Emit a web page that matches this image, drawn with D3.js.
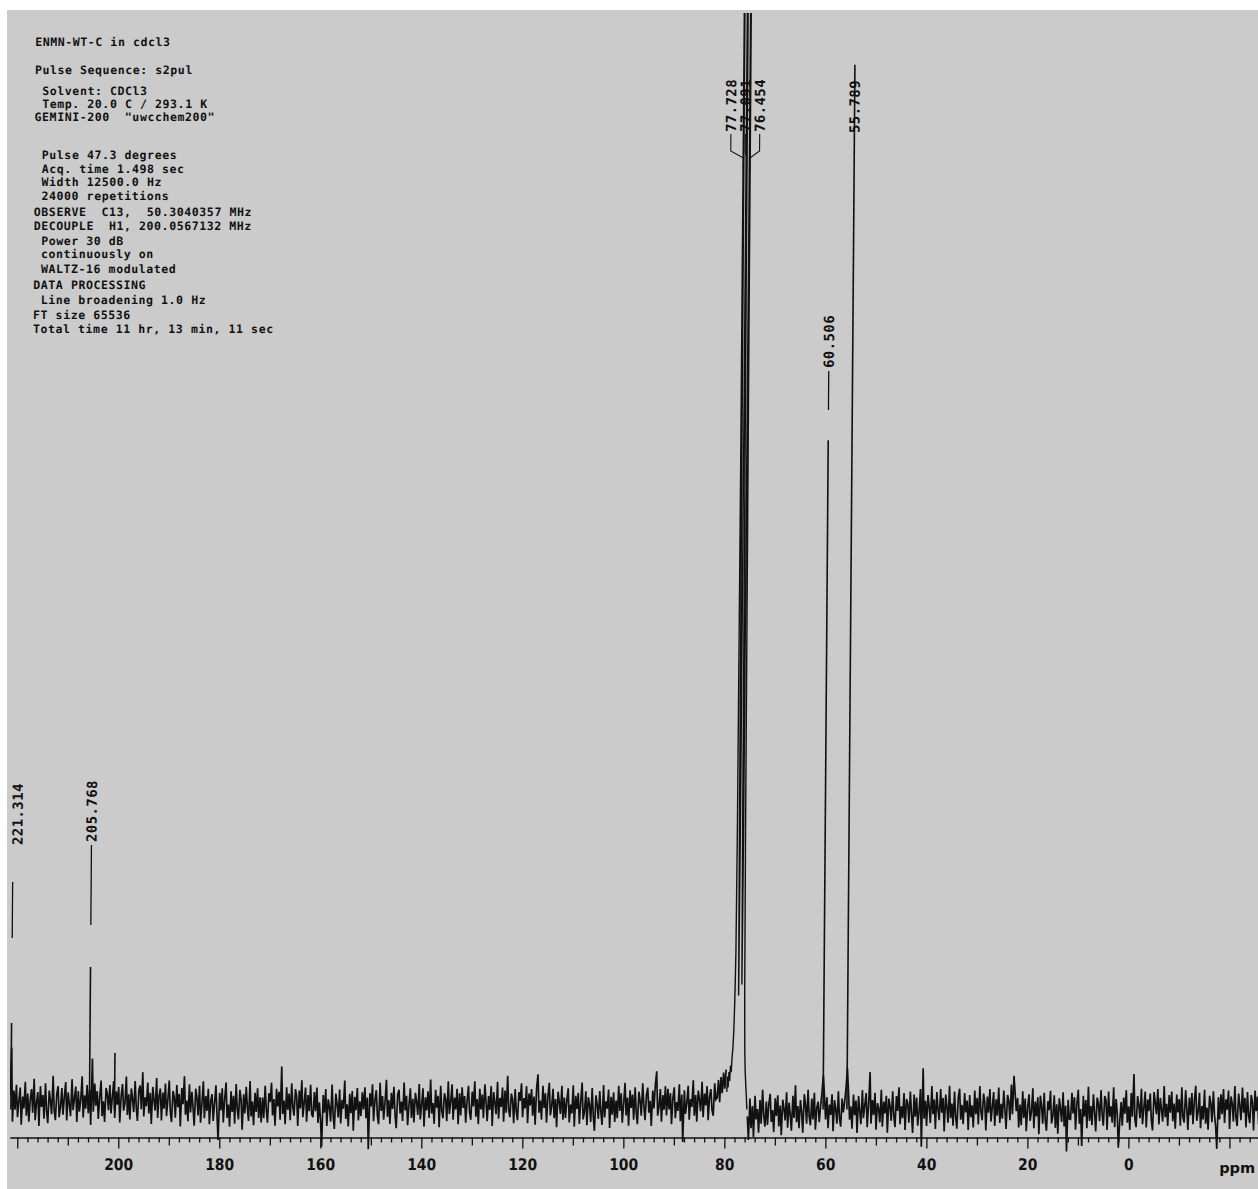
<!DOCTYPE html>
<html>
<head>
<meta charset="utf-8">
<script src="https://cdn.jsdelivr.net/npm/d3@7"></script>
<style>
  html, body { margin: 0; padding: 0; background: #ffffff; }
  svg { display: block; }
  text { white-space: pre; }
</style>
</head>
<body>
<svg id="chart" width="1258" height="1189"></svg>
<script>
// ---------------------------------------------------------------
// 13C NMR spectrum of ENMN-WT-C in CDCl3 (GEMINI-200, 50.3 MHz)
// ---------------------------------------------------------------

// Acquisition / processing parameters printed in the header
const headerLines = [
  "ENMN-WT-C in cdcl3",
  "Pulse Sequence: s2pul",
  " Solvent: CDCl3",
  " Temp. 20.0 C / 293.1 K",
  "GEMINI-200  \"uwcchem200\"",
  " Pulse 47.3 degrees",
  " Acq. time 1.498 sec",
  " Width 12500.0 Hz",
  " 24000 repetitions",
  "OBSERVE  C13,  50.3040357 MHz",
  "DECOUPLE  H1, 200.0567132 MHz",
  " Power 30 dB",
  " continuously on",
  " WALTZ-16 modulated",
  "DATA PROCESSING",
  " Line broadening 1.0 Hz",
  "FT size 65536",
  "Total time 11 hr, 13 min, 11 sec"
];

// Chemical-shift axis
const tickLabels = [200, 180, 160, 140, 120, 100, 80, 60, 40, 20, 0];
const axisUnit = "ppm";

// Resolved lines (ppm, intensity in plot units; 100 = full plot height)
const peakPpm    = [221.314, 205.768, 200.8, 60.506, 55.789];
const peakHeight = [7.5,     12.6,    4.75,  60.7,   95.0];

// CDCl3 triplet region, traced point by point (runs off scale at the top)
const solventPpm = [79.6, 79.5, 79.35, 79.2, 79.05, 78.9, 78.75, 78.6, 78.45, 78.3, 78.15, 78.0, 77.9, 77.8,
                    77.728, 77.62, 77.5, 77.41, 77.3, 77.2, 77.091, 76.98, 76.86, 76.77, 76.67, 76.55,
                    76.454, 76.36, 76.28, 76.2, 76.1, 76.0, 75.85, 75.7, 75.6];
const solventHeight = [1.2, 2.6, 1.6, 3.0, 2.2, 3.6, 3.0, 4.4, 5.2, 6.8, 9.5, 14, 25, 60,
                       160, 80, 28, 10, 26, 75, 160, 75, 25, 11, 25, 80,
                       160, 70, 25, 10, 5, 3.2, 1.8, 0.6, -0.4];

// Peak-pick labels
const labelValues = ["221.314", "205.768", "77.728", "77.091", "76.454", "60.506", "55.789"];

// Baseline: sampled every 0.25 ppm from 221.5 ppm (in noise counts);
// null where the solvent trace above takes over
const noiseStart = 221.5;
const noiseStep = 0.25;
const noiseUnit = 0.135;   // plot units per count
const noise = [
  6,38,-12,9,-4,13,-9,2,11,-14, 5,-3,15,-8,7,-12,3,10,-6,17, -11,1,8,-15,12,-2,6,-10,14,-5, -13,9,2,-7,19,-4,-11,7,12,-9,
  -3,10,-8,4,14,-12,7,-1,-9,16, -5,3,11,-13,8,-6,2,18,-10,5, -4,12,-7,9,-15,30,-6,13,-2,8, -11,4,15,-9,1,-13,10,6,-5,12,
  -8,3,14,-11,7,-2,10,-14,4,12, -6,-1,17,-9,5,-12,9,2,-7,14, -4,-13,8,11,-5,20,-10,3,-3,13, -8,6,-15,10,1,-6,16,-11,4,9,
  -12,7,-4,13,-9,2,15,-6,-13,8, 4,-10,12,-3,6,-16,10,-1,18,-8, 3,-11,14,-5,9,-2,-14,11,5,-7, 13,-12,1,16,-9,6,-4,11,-13,3,
  8,-10,2,14,-6,-23,9,-3,12,-11, 5,16,-8,1,-14,10,-4,7,-12,15, -2,-9,11,4,-16,8,-5,13,-1,-10, 17,-7,3,-13,9,-4,12,-8,6,-11,
  5,-9,13,-3,-12,8,2,15,-7,4, -14,11,-1,9,-10,26,-6,3,-13,12, -4,7,-11,14,-2,-8,10,5,-15,9, -3,16,-9,1,11,-12,6,-5,13,-7,
  -6,11,-2,14,-10,4,-8,-26,9,-3, 13,-12,6,1,-9,16,-5,-14,10,3, -7,12,-11,5,-1,18,-8,2,-13,9, -4,11,-16,7,-2,13,-9,4,-6,10,
  -3,12,-9,5,-30,8,-1,14,-11,3, 10,-7,-13,15,-4,6,-10,2,17,-8, 4,-12,9,-2,13,-6,-15,8,11,-5, 3,-10,16,-3,7,-13,1,12,-8,5,
  -11,9,3,-6,15,-9,1,12,-14,6, -3,10,-8,18,-5,2,-12,11,-1,7, -15,13,-4,-9,8,4,-11,16,-6,2, 14,-10,5,-3,11,-13,8,-7,12,-2,
  6,-12,3,13,-5,-10,9,-1,16,-8, 4,-13,11,-3,7,-9,14,2,-11,6, -4,12,-15,8,1,-7,15,-10,4,-2, 11,-12,9,-6,19,-4,-9,7,3,-13,
  10,-5,-11,8,2,14,-9,4,-3,12, -13,7,-1,10,-8,5,-14,11,20,-6, 3,-10,13,-2,8,-12,6,15,-7,-1, 11,-9,4,-15,9,2,-6,13,-10,5,
  -8,4,12,-11,1,-5,14,-14,7,-2, 9,-12,3,16,-9,-4,10,-13,6,1, -10,13,-6,-16,8,2,-8,11,-3,-12, 15,-7,4,-1,12,-14,7,-5,10,-10,
  3,-9,13,-4,8,-12,1,15,-7,5, -14,10,-2,7,-10,12,-5,-13,9,3, -8,14,-1,-11,6,11,-6,2,-15,9, -3,13,22,-8,-2,10,-12,6,-4,12,
  -7,11,-3,8,-13,5,12,-9,2,-4, 14,-11,7,-25,10,-6,1,13,-10,4, -2,16,-8,6,-12,9,3,-5,15,-9, 7,-1,12,-11,5,10,-4,-8,14,3,
  2,14,-1,16,5,19,8,21,null,null, null,null,null,null,null,null,null,null,null,null, null,null,null,null,-4,-20,8,-12,3,-18, 10,-6,1,-15,7,-9,14,-3,-11,6,
  -9,5,12,-7,1,-14,9,-3,11,-10, 4,-16,8,2,-6,13,-11,6,-2,-13, 10,-5,17,-8,3,-12,7,-1,-15,11, 4,-9,14,-4,-10,8,-6,12,-13,2,
  6,-8,3,12,24,10,-6,9,-12,4, -3,11,-14,7,1,-9,13,-5,-11,8, -2,5,14,28,12,-7,2,-13,10,-4, 6,-16,9,-1,-10,13,-6,3,11,-12,
  4,26,-9,7,-3,12,-13,5,1,-8, 14,-11,6,-2,10,-15,8,3,-7,13, -4,-12,9,-1,15,-10,2,-6,11,-14, 7,4,-9,12,-3,-16,10,-5,8,-11,
  -2,13,-26,27,-7,5,-12,9,1,-10, 15,-4,6,-14,11,-1,-8,13,-3,7, -15,10,2,-9,16,-6,4,-11,12,-5, -13,8,14,-7,3,-10,11,-2,6,-14,
  9,-6,2,-13,12,-4,7,-11,15,-2, -8,10,4,-15,8,-3,13,-9,1,11, -12,6,-5,14,-10,3,-7,12,-1,-14, 9,5,-8,16,-4,22,10,-2,7,-13,
  4,-10,13,-5,8,-14,2,11,-7,-1, 15,-12,6,-4,9,-16,10,3,-9,12, -6,-13,7,1,14,-8,-3,11,-11,5, -15,9,2,-7,13,-10,4,-27,8,-5,
  -6,12,-2,9,-13,5,14,-9,1,-24, 10,-4,7,-12,16,-7,3,-10,11,-1, -15,8,4,-8,13,-3,-11,9,6,-14, 12,-5,2,-9,15,-12,7,-3,-26,-8,
  5,-11,8,-3,13,-9,2,-14,11,-5, 24,-7,-12,9,3,-6,14,-10,1,12, -13,6,-2,10,-8,-15,11,4,-4,13, -11,7,-1,-9,15,-6,3,-12,9,-3,
  12,-8,4,-13,10,-2,7,-11,15,-5, -9,13,1,-14,8,-4,11,-10,6,16, -7,-1,12,-12,3,-6,14,-9,2,-13, 10,5,-8,13,-3,-11,-26,9,-6,11,
  -4,13,-10,6,-1,12,-14,8,3,-9, 15,-6,-12,10,2,-8,14,-3,7,-13, 11,-5,-10,9,4,-15,12,-2,8,-11, 6,-7,13,-4,10,-12,5,-9,14,-6
];

// Baseline offset, one value per 5 ppm starting at 221.5 ppm (plot units)
const drift = [
  0.1, 0.1, 0.2, 0.2, 0.3, 0.3, 0.2, 0.0, -0.1, -0.1,
  0.0, 0.1, -0.3, -0.2, 0.0, -0.1, -0.1, 0.0, 0.0, 0.1,
  0.1, 0.0, -0.1, -0.2, 0.0, 0.1, 0.0, 0.1, 0.4, -0.5,
  -0.6, -0.5, -0.5, -0.4, -0.5, -0.4, -0.3, -0.4, -0.3, -0.3,
  -0.5, -0.6, -0.5, -0.4, -0.4, -0.3, -0.4, -0.5, -0.3, -0.3
];

// ---------------------------------------------------------------
// Layout
// ---------------------------------------------------------------
const W = 1258, H = 1189;
const ink = "#111111";
const paper = "#cbcbcb";
const baseY = 1105;          // zero intensity
const axisY = 1137.5;        // ppm scale line
const shear = -0.44;         // slight shear of the plotter page (deg)

const headerX = 27;
const headerBaselines = [46, 74.5, 95, 108, 121, 159.5, 173, 186.5, 200, 216.5, 230.5, 245, 258.5, 273.5, 289, 304, 319, 333.5];

// label placement: bottom end of the vertical text, and leader segments
const labelLayout = {
  "221.314": { bottom: 845, dx: 4.5, leader: [882, 938] },
  "205.768": { bottom: 842, dx: 0,   leader: [845, 925] },
  "77.728":  { bottom: 132, spread: -1 },
  "77.091":  { bottom: 132, spread: 0 },
  "76.454":  { bottom: 132, spread: 1 },
  "60.506":  { bottom: 368, dx: 0,   leader: [371, 410] },
  "55.789":  { bottom: 133, dx: 0,   leader: null }
};
const spreadGap = 14.4, spreadShift = -1.5;
const digitWidth = 9.6;      // condensed plotter digits on the scale

const x = d3.scaleLinear().domain([221.5, -25.6]).range([10, W]);
const y = d3.scaleLinear().domain([0, 100]).range([baseY, 10]);

const svg = d3.select("#chart");

// page: white margin at top/left, grey paper
svg.append("rect").attr("width", W).attr("height", H).attr("fill", "#ffffff");
svg.append("rect").attr("x", 7).attr("y", 10).attr("width", W - 7).attr("height", H - 10).attr("fill", paper);

svg.append("defs").append("clipPath").attr("id", "paperClip")
  .append("rect").attr("x", 10).attr("y", 13).attr("width", W - 10).attr("height", H - 13);

const page = svg.append("g").attr("clip-path", "url(#paperClip)")
  .append("g")
  .attr("transform", `translate(0,${baseY}) skewX(${shear}) translate(0,${-baseY})`);

// ---- header block ----
page.append("g")
  .attr("font-family", "'DejaVu Sans Mono', monospace")
  .attr("font-weight", "bold")
  .attr("font-size", 11.5)
  .attr("letter-spacing", "0.6px")
  .attr("fill", ink)
  .selectAll("text")
  .data(headerLines)
  .join("text")
  .attr("x", headerX)
  .attr("y", (d, i) => headerBaselines[i])
  .text(d => d);

// ---- baseline trace ----
const trace = noise.map((v, i) => ({
  ppm: noiseStart - i * noiseStep,
  v: v === null ? null : v * noiseUnit + drift[Math.floor(i / 20)]
}));

const line = d3.line()
  .defined(d => d.v !== null)
  .x(d => x(d.ppm))
  .y(d => y(d.v));

page.append("path")
  .datum(trace)
  .attr("d", line)
  .attr("fill", "none")
  .attr("stroke", ink)
  .attr("stroke-width", 1.7)
  .attr("stroke-linejoin", "miter");

// ---- CDCl3 triplet ----
const solvent = solventPpm.map((p, i) => ({ ppm: p, v: solventHeight[i] }));
page.append("path")
  .datum(solvent)
  .attr("d", line)
  .attr("fill", "none")
  .attr("stroke", ink)
  .attr("stroke-width", 1.4);

// ---- single lines ----
page.append("g").selectAll("line")
  .data(peakPpm.map((p, i) => ({ ppm: p, h: peakHeight[i] })))
  .join("line")
  .attr("x1", d => x(d.ppm)).attr("x2", d => x(d.ppm))
  .attr("y1", y(-0.4)).attr("y2", d => y(d.h))
  .attr("stroke", ink)
  .attr("stroke-width", 1.6);

// ---- peak labels ----
const triplet = ["77.728", "77.091", "76.454"];
const labelG = page.append("g");
const labelX = s => {
  const L = labelLayout[s];
  if (L.spread !== undefined) return x(+triplet[1]) + L.spread * spreadGap + spreadShift;
  return x(+s) + L.dx;
};

// leaders
labelValues.forEach(s => {
  const L = labelLayout[s];
  if (L.leader) {
    labelG.append("line")
      .attr("x1", x(+s)).attr("x2", x(+s))
      .attr("y1", L.leader[0]).attr("y2", L.leader[1])
      .attr("stroke", ink).attr("stroke-width", 1.3);
  }
});

// bracket joining the spread triplet labels to their lines
triplet.forEach(s => {
  const lx = labelX(s), px = x(+s);
  labelG.append("path")
    .attr("d", `M${lx},${labelLayout[s].bottom + 2}V151L${px},158V170`)
    .attr("fill", "none")
    .attr("stroke", ink)
    .attr("stroke-width", 1.1);
});

labelG.selectAll("text")
  .data(labelValues)
  .join("text")
  .attr("transform", s => `translate(${labelX(s)},${labelLayout[s].bottom}) rotate(-90)`)
  .attr("dominant-baseline", "central")
  .attr("font-family", "'DejaVu Sans Mono', monospace")
  .attr("font-weight", "bold")
  .attr("font-size", 14)
  .attr("letter-spacing", "0.4px")
  .attr("fill", ink)
  .text(s => s);

// ---- ppm axis ----
const allTicks = d3.range(-24, 221, 2);
const axis = d3.axisBottom(x)
  .tickValues(allTicks)
  .tickSizeInner(5)
  .tickSizeOuter(0)
  .tickPadding(16)
  .tickFormat(d => tickLabels.includes(d) ? String(d) : "");

const gAxis = page.append("g")
  .attr("transform", `translate(0,${axisY})`)
  .call(axis);

gAxis.select(".domain").attr("stroke", ink).attr("stroke-width", 1.5);
gAxis.selectAll(".tick line")
  .attr("stroke", ink)
  .attr("stroke-width", 1.3)
  .attr("y2", d => d % 20 === 0 ? 11 : (d % 10 === 0 ? 8 : 5));
gAxis.selectAll(".tick text")
  .attr("fill", ink)
  .attr("font-family", "'DejaVu Sans', sans-serif")
  .attr("font-weight", "bold")
  .attr("font-size", 16)
  .each(function(d) {
    const s = tickLabels.includes(d) ? String(d) : "";
    if (s) d3.select(this).attr("textLength", s.length * digitWidth).attr("lengthAdjust", "spacingAndGlyphs");
  });

// unit name at the -20 ppm position, kept inside the page edge
page.append("text")
  .attr("x", x(-20) - 10)
  .attr("y", axisY + 36)
  .attr("font-family", "'DejaVu Sans', sans-serif")
  .attr("font-weight", "bold")
  .attr("font-size", 14.5)
  .attr("fill", ink)
  .text(axisUnit);
</script>
</body>
</html>
